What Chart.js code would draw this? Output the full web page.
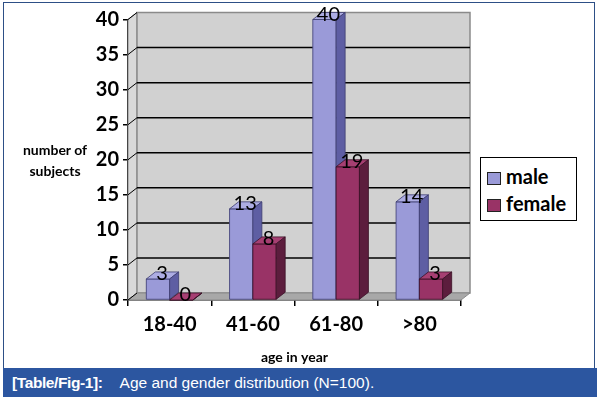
<!DOCTYPE html>
<html>
<head>
<meta charset="utf-8">
<script src="https://cdn.jsdelivr.net/npm/chart.js@4/dist/chart.umd.min.js"></script>
<style>
body { margin: 0; width: 600px; height: 403px; background: #fff; position: relative; overflow: hidden; font-family: Lato, sans-serif; }
#frame { position: absolute; left: 3px; top: 2px; width: 592px; height: 394px; border: 1.5px solid #2d4f86; box-sizing: border-box; }
#chart { position: absolute; left: 0; top: 0; }
#ytitle { position: absolute; left: 12px; top: 139px; width: 86px; text-align: center; font: bold 14px Lato, sans-serif; line-height: 21px; color: #000; }
#legend { position: absolute; left: 480px; top: 157px; width: 97px; height: 64px; border: 1.5px solid #000; box-sizing: border-box; background: #fff; }
.item { position: absolute; left: 6px; font: bold 20px Lato, sans-serif; color: #000; line-height: 20px; }
.sw { display: inline-block; width: 14px; height: 13px; border: 1px solid #222; box-sizing: border-box; vertical-align: -1px; margin-right: 5px; }
#caption { position: absolute; left: 3px; top: 368px; width: 594px; height: 29px; background: #2c56a0; color: #fff; font: 15.5px "Liberation Sans", Arial, sans-serif; line-height: 29px; padding-left: 9px; box-sizing: border-box; white-space: nowrap; }
#caption b { letter-spacing: -0.4px; margin-right: 17px; }
</style>
</head>
<body>
<div id="frame"></div>
<canvas id="chart" width="600" height="368"></canvas>
<div id="ytitle">number of<br>subjects</div>
<div id="legend">
  <div class="item" style="top:8px"><span class="sw" style="background:#9a9ad8"></span>male</div>
  <div class="item" style="top:35px"><span class="sw" style="background:#993366"></span>female</div>
</div>
<div id="caption"><b>[Table/Fig-1]:</b>Age and gender distribution (N=100).</div>
<script>
var categories = ["18-40", "41-60", "61-80", ">80"];
var male = [3, 13, 40, 14];
var female = [0, 8, 19, 3];
var yTicks = [0, 5, 10, 15, 20, 25, 30, 35, 40];

// depth of the fake 3d
var DX = 9, DY = -7;

var colors = [
    {front: "#9a9ad8", top: "#adade3", side: "#5e5ea3", edge: "#3c3c70"},
    {front: "#993366", top: "#a63f72", side: "#5c1d3d", edge: "#3a1026"}
];

function poly(ctx, pts, fill, stroke, lw) {
    ctx.beginPath();
    ctx.moveTo(pts[0][0], pts[0][1]);
    for (var i = 1; i < pts.length; i++) ctx.lineTo(pts[i][0], pts[i][1]);
    ctx.closePath();
    if (fill) { ctx.fillStyle = fill; ctx.fill(); }
    if (stroke) { ctx.strokeStyle = stroke; ctx.lineWidth = lw || 1; ctx.stroke(); }
}

var threeD = {
    id: "threeD",
    beforeDatasetsDraw: function(chart) {
        var ctx = chart.ctx, a = chart.chartArea, ys = chart.scales.y;
        ctx.save();
        // side wall, back wall, floor
        poly(ctx, [[a.left, a.top], [a.left + DX, a.top + DY], [a.left + DX, a.bottom + DY], [a.left, a.bottom]], "#d9d9d9", "#8a8a8a", 1);
        poly(ctx, [[a.left + DX, a.top + DY], [a.right + DX, a.top + DY], [a.right + DX, a.bottom + DY], [a.left + DX, a.bottom + DY]], "#d1d1d1", "#8a8a8a", 1.5);
        poly(ctx, [[a.left, a.bottom], [a.left + DX, a.bottom + DY], [a.right + DX, a.bottom + DY], [a.right, a.bottom]], "#a8a8a8", "#8a8a8a", 1);
        ctx.strokeStyle = "#000";
        yTicks.forEach(function(v) {
            var py = ys.getPixelForValue(v);
            if (v > 0 && v < 40) {
                ctx.lineWidth = 1.5;
                ctx.beginPath();
                ctx.moveTo(a.left + DX, py + DY);
                ctx.lineTo(a.right + DX, py + DY);
                ctx.stroke();
            }
            ctx.lineWidth = 1;
            ctx.beginPath();
            ctx.moveTo(a.left, py);
            ctx.lineTo(a.left + DX, py + DY);
            ctx.stroke();
        });
        ctx.restore();
    },
    afterDatasetsDraw: function(chart) {
        var ctx = chart.ctx;
        ctx.save();
        for (var i = 0; i < chart.data.labels.length; i++) {
            for (var d = 0; d < chart.data.datasets.length; d++) {
                var p = chart.getDatasetMeta(d).data[i].getProps(["x", "y", "base", "width"], true);
                var c = colors[d];
                var l = p.x - p.width / 2, r = p.x + p.width / 2, t = p.y, b = p.base;
                poly(ctx, [[l, t], [r, t], [r, b], [l, b]], c.front, c.edge, 0.8);
                poly(ctx, [[l, t], [l + DX, t + DY], [r + DX, t + DY], [r, t]], c.top, c.edge, 0.8);
                poly(ctx, [[r, t], [r + DX, t + DY], [r + DX, b + DY], [r, b]], c.side, c.edge, 0.8);
            }
        }
        // value labels
        ctx.font = "20px Lato";
        ctx.fillStyle = "#000";
        ctx.textAlign = "center";
        ctx.textBaseline = "alphabetic";
        for (var d = 0; d < chart.data.datasets.length; d++) {
            chart.getDatasetMeta(d).data.forEach(function(el, i) {
                ctx.fillText(String(chart.data.datasets[d].data[i]), el.x + 4, el.y + 1);
            });
        }
        ctx.restore();
    }
};

var boldFont = {family: "Lato", size: 20, weight: "bold"};

new Chart(document.getElementById("chart"), {
    type: "bar",
    data: {
        labels: categories,
        datasets: [
            {label: "male", data: male, backgroundColor: colors[0].front},
            {label: "female", data: female, backgroundColor: colors[1].front}
        ]
    },
    options: {
        responsive: false,
        animation: false,
        devicePixelRatio: 1,
        categoryPercentage: 0.56,
        barPercentage: 1,
        layout: {padding: {left: 0, top: 19.5, right: 139, bottom: 0}},
        plugins: {legend: {display: false}, tooltip: {enabled: false}},
        scales: {
            x: {
                ticks: {font: boldFont, color: "#000", padding: 7},
                grid: {drawOnChartArea: false, color: "#000", lineWidth: 1.5, tickLength: 6, offset: true},
                border: {color: "#000", width: 1.5},
                title: {display: true, text: "age in year", color: "#000", font: {family: "Lato", size: 14, weight: "bold"}, padding: {top: 0, bottom: 2}},
                afterFit: function(s) { s.height = 68; }
            },
            y: {
                min: 0,
                max: 40,
                afterBuildTicks: function(s) { s.ticks = yTicks.map(function(v) { return {value: v}; }); },
                ticks: {font: boldFont, color: "#000", padding: 4},
                grid: {drawOnChartArea: false, color: "#000", lineWidth: 1.5, tickLength: 5},
                border: {color: "#000", width: 1.5},
                afterFit: function(s) { s.width = 128; }
            }
        }
    },
    plugins: [threeD]
});
</script>
</body>
</html>
